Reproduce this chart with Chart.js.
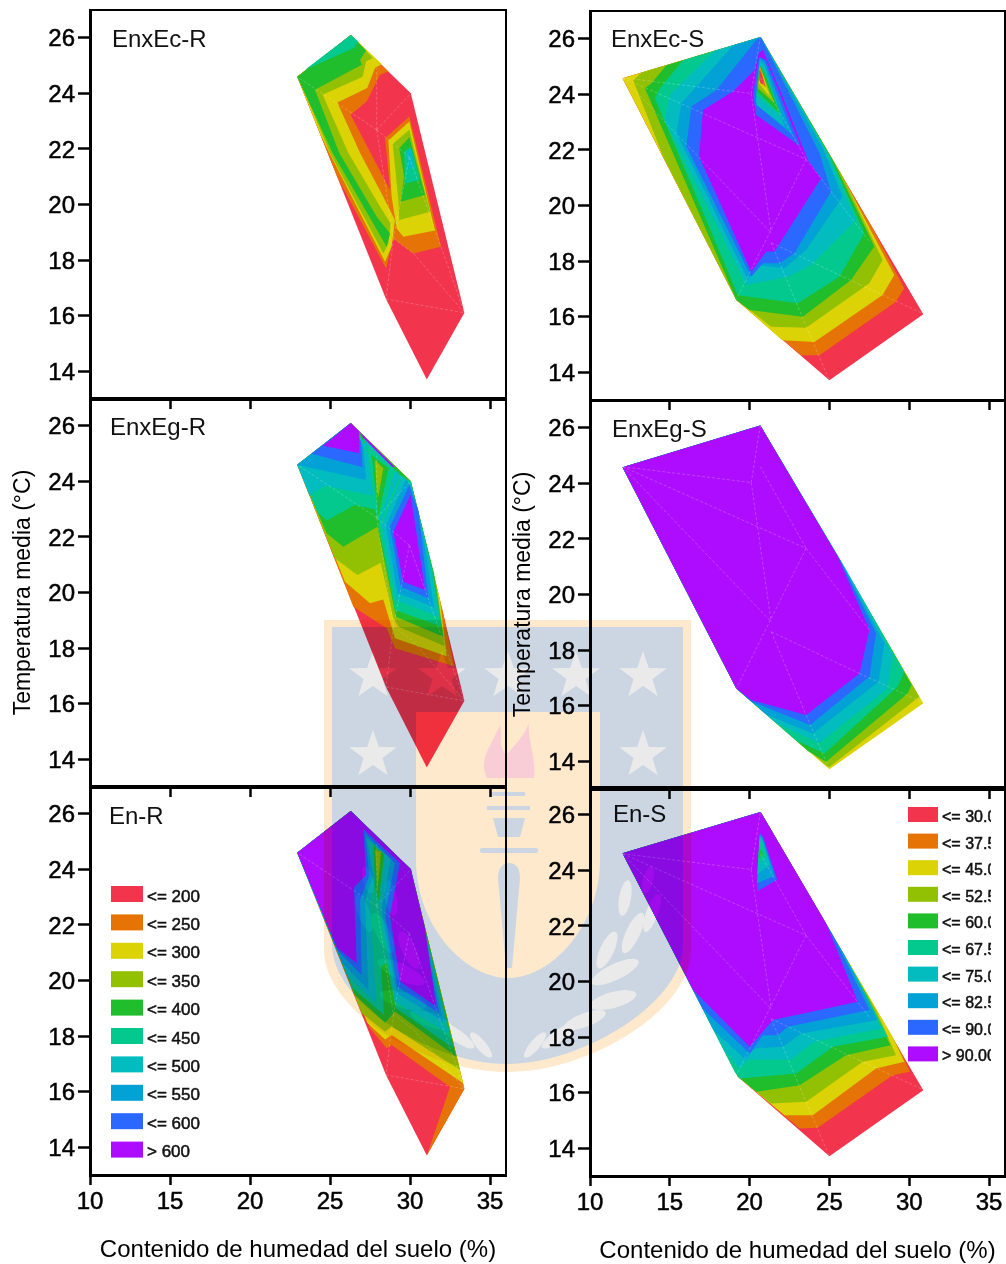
<!DOCTYPE html>
<html>
<head>
<meta charset="utf-8">
<title>Contornos</title>
<script src="https://cdn.jsdelivr.net/npm/chart.js@4"></script>
<style>
  html, body { margin: 0; background: #fff; overflow: hidden; width: 1006px; height: 1264px; }
  canvas { position: absolute; }
  #crest { position: absolute; left: 0; top: 0; mix-blend-mode: multiply; pointer-events: none; }
</style>
</head>
<body>
<svg id="crest" width="1006" height="1264"></svg>
<script>
const xTickValues = [10, 15, 20, 25, 30, 35];
const yTickValues = [14, 16, 18, 20, 22, 24, 26];
const xTitle = "Contenido de humedad del suelo (%)";
const yTitle = "Temperatura media (°C)";

const levelColors = ["#f2344c", "#e57305", "#dbd305", "#92c003", "#20bd2c", "#04c98e", "#03bcbf", "#03a2d6", "#2a68ff", "#ad0cff"];
const legendR = ["<= 200", "<= 250", "<= 300", "<= 350", "<= 400", "<= 450", "<= 500", "<= 550", "<= 600", "> 600"];
const legendS = ["<= 30.0", "<= 37.5", "<= 45.0", "<= 52.5", "<= 60.0", "<= 67.5", "<= 75.0", "<= 82.5", "<= 90.0", "> 90.00"];

// each layer: [level, x, y, x, y, ...] in humedad / temperatura units, painted in order
const enxEcR = [
  [0, 26.3,26.1, 30.05,24, 33.4,16.1, 31.05,13.7, 28.5,16.6, 22.95,24.6],
  [1, 22.95,24.6, 26.3,26.1, 28.65,24.79, 28.13,24.67, 27.29,23.71, 26.29,23.23, 28.75,20.52, 28.44,22.38, 29.96,23.17, 31.94,18.48, 30.21,18.24, 28.96,18.78, 28.5,17.7, 25.45,21],
  [2, 22.95,24.6, 26.3,26.1, 28.23,25.06, 27.81,24.91, 27.33,24.19, 25.46,23.67, 26.88,21.85, 28.33,20.28, 29.06,19.44, 28.85,18.48, 28.44,17.94, 24.96,21.85, 24.42,22.5],
  [3, 22.95,24.6, 26.3,26.1, 27.67,25.27, 27.25,25.15, 27.04,24.6, 24.54,23.95, 26.15,21.85, 28.13,19.92, 28.79,19.32, 28.65,18.6, 28.33,18.24, 25,21.85, 23.96,23.29],
  [4, 22.95,24.6, 26.3,26.1, 27.25,25.54, 26.88,25.21, 26.98,25.03, 24.06,24.13, 25.58,21.85, 27.92,19.56, 28.75,18.96, 28.54,18.48, 25.17,21.85, 23.38,24.07],
  [5, 23.44,24.85, 26.3,26.1, 26.77,25.87, 26.5,25.63],
  [2, 28.65,22.3, 29.96,22.99, 31.56,19.06, 29.58,18.84, 29.17,19.14, 28.85,20.28],
  [3, 28.92,22.18, 29.96,22.69, 31.25,19.74, 29.33,19.44, 29.27,20.16],
  [4, 29.33,22.02, 29.96,22.42, 30.94,20.34, 29.42,20.1, 29.63,21],
  [5, 29.63,21.9, 30.04,22.08, 30.63,20.88, 29.69,20.76],
  [6, 29.75,21.9, 30.1,22.02, 30.31,21.36, 29.9,21.24],
];

const enxEcS = [
  [0, 20.7,26.06, 30.88,16.09, 25,13.71, 19.17,16.6, 12.04,24.58],
  [1, 20.69,26.06, 27.71,19.18, 29.69,17.02, 29.17,16.54, 24.38,14.61, 23.23,14.61, 19.17,16.6, 12.04,24.58],
  [2, 20.69,26.06, 26.04,20.8, 29.06,17.5, 28.33,16.78, 24.06,15.09, 22.04,15.15, 19.17,16.6, 12.04,24.58],
  [3, 20.69,26.06, 25.83,21.04, 28.33,18.04, 27.5,17.2, 23.54,15.6, 21.35,15.64, 20,16.24, 19.17,16.6, 14.58,21.76, 12.71,24.5, 13.23,24.79],
  [4, 20.69,26.06, 25.21,21.64, 27.81,18.52, 26.35,17.32, 23.33,16, 20,16.24, 19.17,16.6, 13.44,24.22, 13.85,24.4, 14.79,25.05],
  [5, 20.69,26.06, 25,21.82, 27.19,19, 25.63,17.44, 23.02,16.48, 19.27,16.77, 14.06,23.86, 14.38,24.22, 15.83,25.23],
  [6, 20.69,26.06, 24.79,21.94, 26.67,19.48, 23.85,17.86, 22.4,17.44, 19.79,17.14, 14.69,23.08, 15,23.98, 17.81,25.57],
  [7, 20.69,26.06, 24.58,22.06, 25.83,20.32, 23.54,18.4, 22.19,17.74, 20.42,17.86, 19.9,17.32, 15.42,22.6, 15.73,23.68, 18.96,25.76],
  [8, 20.69,26.06, 24.38,21.88, 25.1,20.5, 22.81,18.28, 21.88,17.92, 20.83,17.92, 20.1,17.44, 16.04,22.12, 16.35,23.56, 17.92,24.16, 20.42,25.96],
  [9, 20.58,25.49, 20.31,24.88, 18.96,24.1, 17.08,23.44, 16.83,21.76, 20.1,17.62, 21.04,18.34, 21.56,18.34, 24.48,20.98, 23.65,21.64, 21.98,24.04, 20.83,25.6],
  [8, 20.58,25.36, 20.21,23.98, 20.42,23.26, 23.19,22.12, 21.04,25.24],
  [7, 20.63,25.3, 20.38,23.8, 20.42,23.62, 22.71,22.54, 20.94,25.18],
  [6, 20.63,25.18, 20.42,23.86, 20.46,23.62, 22.19,22.84, 20.94,25.06],
  [5, 20.63,25.06, 20.42,23.98, 21.98,23.2, 20.94,24.88],
  [4, 20.63,25.06, 20.46,24.1, 21.88,23.32, 20.94,24.76],
  [3, 20.63,25, 20.52,24.22, 21.56,23.68, 20.88,24.64],
  [2, 20.63,25, 20.58,24.4, 21.25,23.92, 20.88,24.64],
  [1, 20.63,25, 20.58,24.52, 21.04,24.22, 20.83,24.64],
  [0, 20.58,24.88, 20.67,24.4, 20.94,24.34, 20.73,24.76],
];

const enxEgR = [
  [0, 26.3,26.1, 30.05,24, 33.4,16.1, 31.05,13.7, 28.5,16.6, 22.95,24.6],
  [1, 26.3,26.1, 30.05,24, 32.08,19.25, 32.75,17.35, 29.06,17.99, 28.54,18.71, 26.46,19.49, 22.95,24.6],
  [2, 25.94,20.39, 27.5,19.61, 28.33,19.75, 29.06,18.35, 32.29,17.71, 31.88,19.73, 30.05,24, 26.3,26.1, 22.95,24.6],
  [3, 25.31,21.23, 26.71,20.63, 28.17,21.07, 28.96,19.07, 29.27,18.77, 32.19,18.07, 31.67,20.21, 30.05,24, 26.3,26.1, 22.95,24.6],
  [4, 24.79,22.13, 25.83,21.65, 27.96,22.37, 29.13,19.13, 32.08,18.41, 31.5,20.69, 30.05,24, 26.3,26.1, 22.95,24.6],
  [5, 24.21,22.91, 24.79,22.59, 26.56,23.15, 27.92,22.97, 27.33,25.01, 26.3,26.1, 22.95,24.6],
  [6, 23.73,23.48, 24.69,23.84, 27.71,23.48, 27.25,25.31, 26.3,26.1, 22.95,24.6],
  [7, 22.95,24.6, 27.25,24.05, 27.08,25.25, 26.3,26.1],
  [8, 23.85,24.99, 27.04,24.51, 26.94,25.44, 26.3,26.1],
  [9, 24.58,25.28, 26.83,25.01, 26.83,25.8, 26.3,26.1],
  [5, 29.06,24.35, 28.02,22.43, 29.06,19.37, 31.98,18.77, 31.35,20.93, 30.05,24],
  [6, 29.48,24.2, 28.23,22.43, 29.13,19.73, 31.83,19.11, 31.15,21.41, 30.06,23.87],
  [7, 29.75,24.08, 28.5,22.43, 29.21,19.99, 31.5,19.47, 30.83,22.01, 30.1,23.75],
  [8, 29.96,23.87, 28.75,22.37, 29.42,20.21, 31.15,19.79, 30.52,22.97, 30.1,23.57],
  [9, 30.04,23.51, 28.96,22.19, 29.58,20.39, 30.94,20.09],
  [9, 26.83,25.8, 29.06,24.51, 28.79,24.53, 27.08,25.56],
  [6, 27.08,25.56, 29.38,24.24, 28.13,22.49, 27.81,22.97, 27.25,25.31],
  [5, 27.33,25.31, 29.06,24.41, 28.08,22.55, 27.81,22.97],
  [4, 27.6,24.95, 28.65,24.47, 28.02,22.73],
  [3, 27.81,24.77, 28.33,24.47, 28.02,23.45, 27.92,23.69],
];

const enxEgS = [
  [2, 20.7,26.06, 30.88,16.09, 25,13.71, 19.17,16.6, 12.04,24.58],
  [3, 20.67,26.08, 27.29,19.62, 30.63,16.32, 24.96,13.77, 19.17,16.62, 12.04,24.58],
  [4, 20.67,26.08, 26.88,20.04, 30.15,16.74, 29.9,16.44, 24.79,13.98, 23.65,14.37, 19.17,16.62, 12.04,24.58],
  [5, 20.67,26.08, 26.25,20.68, 29.69,17.22, 29.27,16.68, 24.69,14.28, 22.92,14.75, 19.17,16.62, 12.04,24.58],
  [6, 20.67,26.08, 25.94,21, 28.96,17.82, 28.65,16.62, 24.38,14.66, 21.67,15.37, 19.17,16.62, 12.04,24.58],
  [7, 20.67,26.08, 25.73,21.18, 28.44,18.24, 28.08,16.86, 23.96,15, 21.04,15.68, 19.17,16.62, 12.04,24.58],
  [8, 20.67,26.08, 25.63,21.28, 27.92,18.6, 27.5,17.04, 23.79,15.3, 20.1,16.15, 19.17,16.62, 12.04,24.58],
  [9, 20.67,26.08, 25.52,21.37, 27.5,18.72, 26.88,17.16, 23.54,15.66, 20.1,16.2, 19.17,16.62, 12.04,24.58],
];

const enR = [
  [0, 26.3,26.1, 30.05,24, 33.4,16.1, 31.05,13.7, 28.5,16.6, 22.95,24.6],
  [1, 31.05,13.7, 32.5,16.17, 28.85,17.68, 28.54,17.56, 27.5,18.28, 22.95,24.6, 26.3,26.1, 30.05,24, 33.4,16.1],
  [2, 22.95,24.6, 26.3,26.1, 30.05,24, 33.33,16.3, 28.85,18.04, 28.44,17.88, 27.33,18.48],
  [3, 22.95,24.6, 26.3,26.1, 30.05,24, 33.13,16.78, 28.85,18.34, 28.44,18.16, 26.98,18.82],
  [4, 22.95,24.6, 26.3,26.1, 30.05,24, 32.88,17.26, 29.06,18.88, 28.44,18.48, 26.56,19.48],
  [5, 22.95,24.6, 26.3,26.1, 30.05,24, 32.71,17.56, 29.13,19, 28.54,20.62, 28.19,20.5, 28.38,18.76, 26.42,19.72],
  [6, 22.95,24.6, 26.3,26.1, 30.05,24, 32.4,18.1, 29.06,19.24, 28.08,22.6, 28.44,24.52, 27.5,25, 27.88,23.8, 27.5,22.78, 27.88,19.18, 26.1,20.14],
  [7, 22.95,24.6, 26.3,26.1, 30.05,24, 32.08,18.52, 29.17,19.54, 28.23,22.54, 28.79,24.4, 27.29,25.12, 27.71,23.8, 27.19,22.9, 27.4,19.66, 25.79,20.62],
  [8, 22.95,24.6, 26.3,26.1, 30.05,24, 31.83,18.82, 29.21,19.78, 28.44,22.36, 29.06,24.22, 27.19,25.3, 27.46,23.8, 26.88,22.9, 26.98,20.2, 25.46,21.1],
  [9, 22.95,24.6, 26.3,26.1, 30.05,24, 30.94,21.88, 31.63,19.06, 29.38,19.96, 28.75,22.36, 29.38,24.22, 27.08,25.45, 27.25,23.8, 26.5,23.36, 26.67,20.62, 25.46,21.16],
  [4, 27.71,24.88, 28.38,24.52, 28.04,22.9, 27.81,23.38],
  [3, 27.81,24.7, 28.19,24.64, 27.96,23.14, 27.92,23.86],
];

const enS = [
  [0, 20.69,26.1, 30.88,16.09, 25,13.71, 19.27,16.57, 12.04,24.62],
  [1, 20.69,26.1, 29.48,17.47, 30.04,16.75, 28.96,16.63, 24.27,14.74, 23.13,14.71, 19.27,16.57, 12.04,24.62],
  [2, 20.69,26.1, 28.96,18.01, 29.69,17.11, 27.92,16.87, 23.96,15.19, 22.19,15.19, 19.27,16.57, 12.04,24.62],
  [3, 20.69,26.1, 27.92,18.97, 29.17,17.35, 27.08,17.11, 23.54,15.67, 21.35,15.61, 19.27,16.57, 12.04,24.62],
  [4, 20.69,26.1, 27.4,19.45, 28.81,17.71, 26.04,17.35, 23.13,16.27, 20.42,16.03, 19.27,16.57, 12.04,24.62],
  [5, 20.69,26.1, 26.77,20.11, 28.65,18.01, 25.21,17.65, 22.92,16.69, 19.38,16.51, 19.06,16.75, 12.04,24.62],
  [6, 20.69,26.1, 26.46,20.41, 28.23,18.31, 24.06,17.83, 22.6,17.19, 19.9,17.19, 19.38,16.87, 18.42,17.53, 12.04,24.62],
  [7, 20.69,26.1, 25.94,20.95, 28.02,18.61, 23.23,18.13, 22.08,17.65, 20.31,17.59, 19.73,17.19, 17.75,18.25, 12.04,24.62],
  [8, 20.69,26.1, 25.21,21.67, 27.5,18.97, 22.4,18.37, 21.77,18.07, 20.83,18.07, 20,17.41, 17.06,19.03, 12.04,24.62],
  [9, 20.69,26.1, 24.79,22.1, 26.77,19.27, 21.46,18.61, 20,17.65, 16.46,19.69, 12.04,24.62],
  [8, 20.63,25.34, 20.46,23.24, 21.73,23.66, 20.83,25.22],
  [7, 20.63,25.28, 20.46,23.54, 21.56,23.8, 20.83,25.16],
  [6, 20.63,25.22, 20.48,23.87, 21.29,24.2, 20.79,25.1],
  [5, 20.63,25.1, 20.52,24.2, 21.08,24.5, 20.75,24.98],
  [4, 20.63,24.8, 20.56,24.44, 20.83,24.56],
];

// faint triangulation edges: x1, y1, x2, y2
const meshR = [
  [28.5,16.6, 33.4,16.1], [30.21,18.24, 33.4,16.1], [28.96,18.78, 30.21,18.24], [28.96,18.78, 28.5,16.6],
  [27.92,22.69, 30.05,24], [27.92,22.69, 27.92,24.91], [27.92,22.69, 28.96,18.78], [27.92,22.69, 22.95,24.6],
  [27.92,22.69, 29.96,21.7], [29.96,21.7, 33.4,16.1], [29.96,21.7, 28.96,18.78],
];
const meshS = [
  [12.04,24.6, 20.1,24.03], [12.04,24.6, 23.54,21.66], [12.04,24.6, 21.35,19.02], [20.67,26.08, 20.1,24.03],
  [20.1,24.03, 21.35,19.02], [20.67,24.6, 23.54,21.66], [23.54,21.66, 19.17,16.62], [23.54,21.66, 27.5,18.72],
  [21.35,18.66, 26.88,17.16], [21.35,18.66, 23.54,15.66], [23.54,15.66, 25,13.7], [26.88,17.16, 30.9,16.1],
];

const panelNames = ["EnxEc-R", "EnxEc-S", "EnxEg-R", "EnxEg-S", "En-R", "En-S"];
const panelLayers = [enxEcR, enxEcS, enxEgR, enxEgS, enR, enS];

const panelLayout = [
  { left: 90, top: 10, width: 416, label: [22, 38], mesh: meshR },
  { left: 590, top: 11, width: 415, label: [21, 37], mesh: meshS },
  { left: 90, top: 398, width: 416, label: [20, 38], mesh: meshR, yAxisTitle: true },
  { left: 590, top: 400, width: 415, label: [22, 38], mesh: meshS, yAxisTitle: true },
  { left: 90, top: 786, width: 416, label: [19, 39], mesh: meshR, xAxisTitle: true,
    legend: { labels: legendR, x: 21, y: 100, w: 32, h: 16, step: 28.4, clip: 500, size: 17 } },
  { left: 590, top: 787, width: 415, label: [23, 36], mesh: meshS, xAxisTitle: true,
    legend: { labels: legendS, x: 318, y: 20, w: 30, h: 15, step: 26.6, clip: 401, size: 16 } },
];

const plotHeight = 389;
const axisFont = { family: "'Liberation Sans', Arial, sans-serif", size: 24 };

const panelDecor = {
  id: "panelDecor",
  beforeDraw(chart) {
    // the y tick numbers sit about 2px lower than canvas "middle" puts them
    if (chart.$labelsNudged) return;
    chart.scales.y.getLabelItems().forEach((item) => { item.textOffset += 2; });
    chart.$labelsNudged = true;
  },
  afterDraw(chart, args, opts) {
    const { ctx, chartArea: a } = chart;
    ctx.save();
    ctx.strokeStyle = "#000";
    ctx.lineWidth = 2;
    ctx.strokeRect(a.left, a.top, a.right - a.left, a.bottom - a.top);
    ctx.fillStyle = "#111";
    ctx.textBaseline = "middle";
    ctx.textAlign = "left";
    ctx.font = "24px 'Liberation Sans', Arial, sans-serif";
    ctx.fillText(opts.name, a.left + opts.label[0], a.top + opts.label[1] - 8);
    if (opts.legend) {
      const lg = opts.legend;
      ctx.beginPath();
      ctx.rect(a.left, a.top, lg.clip, a.bottom - a.top);
      ctx.clip();
      ctx.font = lg.size + "px 'Liberation Sans', Arial, sans-serif";
      ctx.lineWidth = 0.5;
      ctx.strokeStyle = "#111";
      lg.labels.forEach((text, i) => {
        const y = a.top + lg.y + i * lg.step;
        ctx.fillStyle = levelColors[i];
        ctx.fillRect(a.left + lg.x, y, lg.w, lg.h);
        ctx.fillStyle = "#111";
        ctx.fillText(text, a.left + lg.x + lg.w + 4, y + lg.h / 2 + 3);
        ctx.strokeText(text, a.left + lg.x + lg.w + 4, y + lg.h / 2 + 3);
      });
    }
    ctx.restore();
  },
};

function layerDataset(layer) {
  const data = [];
  for (let i = 1; i < layer.length; i += 2) data.push({ x: layer[i], y: layer[i + 1] });
  return {
    data,
    showLine: true,
    fill: "shape",
    backgroundColor: levelColors[layer[0]],
    borderWidth: 0,
    pointRadius: 0,
  };
}

function meshDataset(edges) {
  const data = [];
  edges.forEach((e) => {
    data.push({ x: e[0], y: e[1] }, { x: e[2], y: e[3] }, { x: NaN, y: NaN });
  });
  return {
    data,
    showLine: true,
    fill: false,
    spanGaps: false,
    borderColor: "rgba(255,255,255,0.22)",
    borderWidth: 1,
    borderDash: [3, 2],
    pointRadius: 0,
  };
}

panelNames.forEach((name, idx) => {
  const p = panelLayout[idx];
  const bottomSpace = p.xAxisTitle ? 90 : 12;
  const canvas = document.createElement("canvas");
  canvas.width = 80 + p.width + 3;
  canvas.height = 5 + plotHeight + bottomSpace;
  canvas.style.left = p.left - 80 + "px";
  canvas.style.top = p.top - 5 + "px";
  document.body.insertBefore(canvas, document.getElementById("crest"));

  // chart.js paints the first dataset on top, so the layer order gets flipped
  const datasets = panelLayers[idx].map(layerDataset);
  datasets.push(meshDataset(p.mesh));
  datasets.reverse();

  new Chart(canvas, {
    type: "scatter",
    data: { datasets },
    plugins: [panelDecor],
    options: {
      responsive: false,
      animation: false,
      events: [],
      layout: { padding: { top: 5, right: 3, left: 0, bottom: 0 } },
      plugins: {
        legend: { display: false },
        tooltip: { enabled: false },
        panelDecor: { name, label: p.label, legend: p.legend },
      },
      scales: {
        x: {
          type: "linear",
          min: 10,
          max: 36,
          afterBuildTicks: (s) => { s.ticks = xTickValues.map((v) => ({ value: v })); },
          // fixed box so every panel keeps the same plot size
          afterFit: (s) => { s.height = bottomSpace; s.paddingLeft = 0; s.paddingRight = 0; },
          grid: { drawOnChartArea: false, tickLength: 10, tickWidth: 2.5, tickColor: "#000" },
          border: { color: "#000", width: 3 },
          ticks: {
            display: !!p.xAxisTitle, color: "#000", font: axisFont, padding: 3, maxRotation: 0,
            autoSkip: false, textStrokeColor: "#000", textStrokeWidth: 0.5,
          },
          title: { display: !!p.xAxisTitle, text: xTitle, color: "#000", font: axisFont, padding: 0 },
        },
        y: {
          type: "linear",
          min: 13,
          max: 27,
          afterBuildTicks: (s) => { s.ticks = yTickValues.map((v) => ({ value: v })); },
          afterFit: (s) => { s.width = 80; s.paddingTop = 0; s.paddingBottom = 0; },
          grid: { drawOnChartArea: false, tickLength: 12, tickWidth: 2.5, tickColor: "#000" },
          border: { color: "#000", width: 3 },
          ticks: {
            color: "#000", font: axisFont, padding: 3, autoSkip: false,
            textStrokeColor: "#000", textStrokeWidth: 0.5,
          },
          title: {
            display: !!p.yAxisTitle, text: yTitle, color: "#000",
            font: { family: axisFont.family, size: 23 }, padding: 0,
          },
        },
      },
    },
  });
});

// university crest printed over the whole page as a watermark
function starPoints(cx, cy, r) {
  const pts = [];
  for (let i = 0; i < 10; i++) {
    const rad = i % 2 ? r * 0.4 : r;
    const ang = -Math.PI / 2 + (i * Math.PI) / 5;
    pts.push((cx + rad * Math.cos(ang)).toFixed(1) + "," + (cy + rad * Math.sin(ang)).toFixed(1));
  }
  return pts.join(" ");
}
const crestStars = [[373, 676], [442, 676], [508, 676], [576, 676], [643, 676], [373, 755], [643, 755]];
const crestLeaves = [[625, 898, 6, 18, 10], [648, 880, 5, 14, 15], [652, 913, 6, 20, 20], [633, 933, 7, 22, 25], [607, 950, 7, 20, 25],
  [615, 972, 8, 26, 65], [613, 1000, 8, 24, 75], [585, 1020, 7, 22, 70], [560, 1035, 6, 22, 55], [535, 1045, 5, 16, 40]];
let crest = '<path fill="#fee9cc" d="M324 620H691V950C691 1010 590 1072 507 1072C424 1072 324 1010 324 950Z"/>';
crest += '<path fill="#cbd6e2" d="M332 627H683V945C683 1003 582 1064 507 1064C432 1064 332 1003 332 945Z"/>';
crest += '<path fill="#fee9cc" d="M416 712H600V860C600 925 552 978 508 978C464 978 416 925 416 860Z"/>';
crestStars.forEach((s) => { crest += '<polygon fill="#eaeaea" points="' + starPoints(s[0], s[1], 25) + '"/>'; });
crestLeaves.forEach((l) => {
  crest += '<ellipse fill="#eaeaea" cx="' + l[0] + '" cy="' + l[1] + '" rx="' + l[2] + '" ry="' + l[3] + '" transform="rotate(' + l[4] + " " + l[0] + " " + l[1] + ')"/>';
  const mx = 1016 - l[0];
  crest += '<ellipse fill="#eaeaea" cx="' + mx + '" cy="' + l[1] + '" rx="' + l[2] + '" ry="' + l[3] + '" transform="rotate(' + -l[4] + " " + mx + " " + l[1] + ')"/>';
});
crest += '<path fill="#f9cdd5" d="M487 778C478 760 490 748 500 725C503 738 498 745 506 755C515 745 525 735 529 722C527 738 536 755 534 778Z"/>';
crest += '<g fill="#cbd6e2"><rect x="492" y="792" width="33" height="4"/><rect x="487" y="806" width="43" height="4"/>';
crest += '<path d="M493 818H525L520 837H498Z"/><rect x="480" y="848" width="58" height="5" rx="2"/>';
crest += '<path d="M509 863C517 863 520 870 520 878L512 968H506L498 878C498 870 501 863 509 863Z"/></g>';
document.getElementById("crest").innerHTML = crest;
</script>
</body>
</html>
